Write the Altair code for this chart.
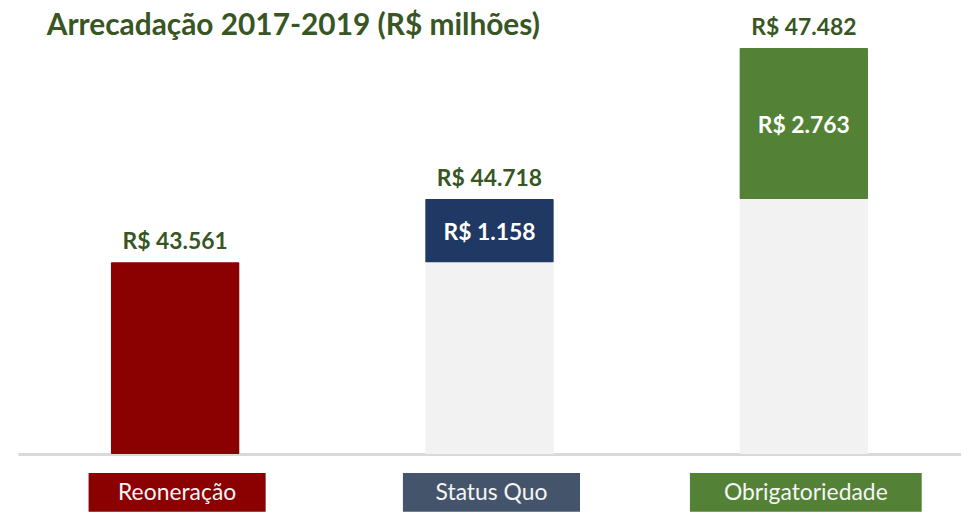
import altair as alt
import pandas as pd

categories = ["Reoneração", "Status Quo", "Obrigatoriedade"]
totals = [43561, 44718, 47482]
starts = [0, 43561, 44718]
increments = [None, 1158, 2763]
bar_colors = ["#8B0000", "#1F3864", "#538135"]
box_colors = ["#8B0000", "#44546A", "#538135"]


def brl(v):
    return "R$ " + f"{int(v):,}".replace(",", ".")


df = pd.DataFrame({
    "cat": categories,
    "total": totals,
    "start": starts,
    "bar_color": bar_colors,
    "box_color": box_colors,
})
df["total_label"] = [brl(v) for v in totals]
df["inc_label"] = [brl(v) if v is not None else "" for v in increments]

W = 948
H = 409
FONT = "Lato"
GREEN_TXT = "#375623"

yscale = alt.Scale(domain=[40050, 47500], clamp=True)
xenc = alt.X(
    "cat:N",
    sort=categories,
    title=None,
    scale=alt.Scale(paddingInner=0, paddingOuter=0),
    axis=alt.Axis(labels=False, ticks=False, domain=True,
                  domainColor="#D9D9D9", domainWidth=3, grid=False),
)

base = alt.Chart(df)

grey = base.transform_calculate(zero="0").mark_bar(color="#F2F2F2", size=129).encode(
    x=xenc,
    y=alt.Y("start:Q", scale=yscale, axis=None),
    y2="zero:Q",
)

seg = base.mark_bar(size=129, cornerRadius=1).encode(
    x=xenc,
    y=alt.Y("start:Q", scale=yscale, axis=None),
    y2="total:Q",
    color=alt.Color("bar_color:N", scale=None, legend=None),
)

top_lbl = base.mark_text(baseline="alphabetic", dy=-13, fontSize=23, font=FONT,
                         fontWeight="bold", color=GREEN_TXT).encode(
    x=xenc,
    y=alt.Y("total:Q", scale=yscale, axis=None),
    text="total_label:N",
)

inner_lbl = base.transform_filter("datum.inc_label != ''").transform_calculate(
    mid="(datum.start + datum.total) / 2"
).mark_text(baseline="middle", dy=2, fontSize=23, font=FONT, fontWeight="bold",
            color="white").encode(
    x=xenc,
    y=alt.Y("mid:Q", scale=yscale, axis=None),
    text="inc_label:N",
)

boxes = base.transform_calculate(bw="68 + 11 * length(datum.cat)").mark_bar(xOffset=2).encode(
    x=xenc,
    y=alt.value(H + 19),
    y2=alt.value(H + 58),
    size=alt.Size("bw:Q", scale=None, legend=None),
    color=alt.Color("box_color:N", scale=None, legend=None),
)

box_txt = base.mark_text(baseline="middle", dx=2, fontSize=23, font=FONT,
                         color="#F5F5F5").encode(
    x=xenc,
    y=alt.value(H + 39),
    text="cat:N",
)

chart = alt.layer(grey, seg, top_lbl, inner_lbl, boxes, box_txt).properties(
    width=W,
    height=H,
    background="white",
    autosize=alt.AutoSizeParams(type="none"),
    padding={"left": 10, "top": 38, "right": 0, "bottom": 57},
    title=alt.TitleParams(
        "Arrecadação 2017-2019 (R$ milhões)",
        anchor="start", dx=29, offset=-24, fontSize=30, font=FONT,
        fontWeight="bold", color=GREEN_TXT,
    ),
).configure_view(strokeWidth=0, stroke="transparent")

chart.save("out.html", embed_options={"renderer": "svg", "actions": False})
